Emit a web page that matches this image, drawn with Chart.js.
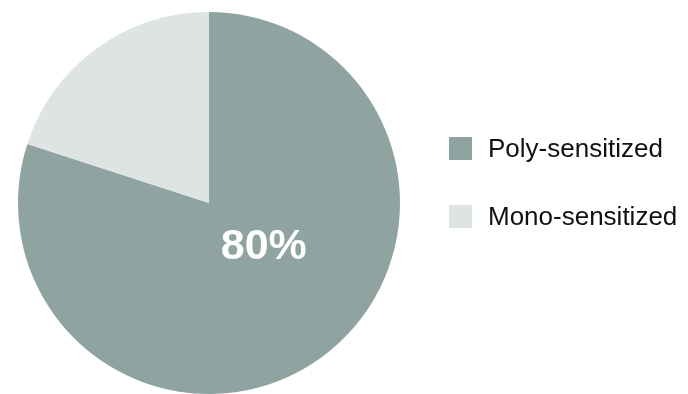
<!DOCTYPE html>
<html>
<head>
<meta charset="utf-8">
<script src="https://cdn.jsdelivr.net/npm/chart.js@4/dist/chart.umd.min.js"></script>
<style>
  html, body { margin: 0; padding: 0; background: #ffffff; }
  #wrap { width: 688px; height: 394px; position: relative; }
</style>
</head>
<body>
<div id="wrap"><canvas id="c"></canvas></div>
<script>
const categories = ['Poly-sensitized', 'Mono-sensitized'];
const values = [80, 20];
const centerLabel = '80%';
const colors = ['#8fa3a0', '#dee3e3'];

const labelPlugin = {
  id: 'sliceLabel',
  afterDatasetsDraw(chart) {
    const ctx = chart.ctx;
    const arc = chart.getDatasetMeta(0).data[0];
    const x = arc.x + arc.outerRadius * 0.287;
    const y = arc.y + arc.outerRadius * 0.23;
    ctx.save();
    ctx.fillStyle = '#ffffff';
    ctx.font = 'bold 43px "Liberation Sans", Arial, sans-serif';
    ctx.textAlign = 'center';
    ctx.textBaseline = 'middle';
    ctx.fillText(centerLabel, x, y);
    ctx.restore();
  }
};

const legendPlugin = {
  id: 'sideLegend',
  afterDraw(chart) {
    const ctx = chart.ctx;
    const boxX = 449, box = 23;
    const rows = [148.5, 216.5];
    ctx.save();
    ctx.font = '26px "Liberation Sans", Arial, sans-serif';
    ctx.textBaseline = 'middle';
    ctx.textAlign = 'left';
    chart.data.labels.forEach((lab, i) => {
      const cy = rows[i];
      ctx.fillStyle = chart.data.datasets[0].backgroundColor[i];
      ctx.fillRect(boxX, cy - box / 2, box, box);
      ctx.fillStyle = '#111111';
      ctx.fillText(lab, 488, cy + 1);
    });
    ctx.restore();
  }
};

new Chart(document.getElementById('c'), {
  type: 'pie',
  data: {
    labels: categories,
    datasets: [{
      data: values,
      backgroundColor: colors,
      borderWidth: 0
    }]
  },
  options: {
    responsive: true,
    maintainAspectRatio: false,
    animation: false,
    layout: { padding: { left: 18, right: 288, top: 12, bottom: 0 } },
    plugins: {
      legend: { display: false },
      tooltip: { enabled: false }
    }
  },
  plugins: [labelPlugin, legendPlugin]
});
</script>
</body>
</html>
